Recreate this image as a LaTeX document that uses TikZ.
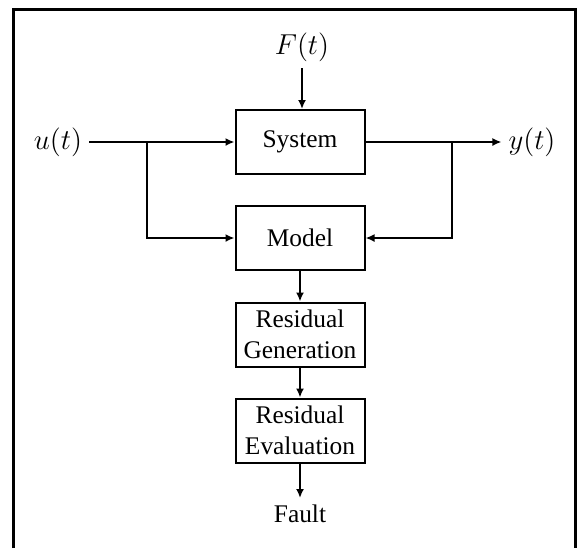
\documentclass[tikz,border=0pt]{standalone}
\usepackage{fontspec}
\setmainfont{Liberation Serif}
\usetikzlibrary{arrows.meta}

\begin{document}
\begin{tikzpicture}[x=0.5pt,y=-0.5pt,
  block/.style={draw,line width=1pt,minimum width=64.5pt,minimum height=32pt,inner sep=0pt,align=center,font=\fontsize{12.7}{15.3}\selectfont},
  sig/.style={line width=1pt,-{Latex[length=4.5pt,width=4pt]}},
  lbl/.style={font=\fontsize{14}{17}\selectfont},
  txt/.style={font=\fontsize{12.7}{15.3}\selectfont}]

  \useasboundingbox (0,0) rectangle (577,548);

  % Frame, open at the bottom
  \draw[line width=1.5pt] (13,548) -- (13,9.5) -- (575.8,9.5) -- (575.8,548);

  % Blocks
  \node[block] (sys) at (300,142) {System};
  \node[block] (mod) at (300,238) {Model};
  \node[block] (gen) at (300,334.5) {Residual\\Generation};
  \node[block] (eval) at (300,430.5) {Residual\\Evaluation};

  % Signals
  \node[lbl] (u) at (58,142) {$u(t)$};
  \node[lbl] (y) at (532,142) {$y(t)$};
  \node[lbl] (F) at (302,47) {$F(t)$};
  \node[txt] (fault) at (300,514) {Fault};

  \coordinate (ju) at (147,142); % Branch to model
  \coordinate (jy) at (452,142); % Branch to model

  \draw[sig] (u) -- (u -| sys.west);
  \draw[sig] (sys.east |- y) -- (y);
  \draw[sig] (F) -- (F |- sys.north);
  \draw[sig] (ju) |- (mod);
  \draw[sig] (jy) |- (mod);
  \draw[sig] (mod) -- (gen);
  \draw[sig] (gen) -- (eval);
  \draw[sig] (eval) -- (fault);

\end{tikzpicture}
\end{document}
